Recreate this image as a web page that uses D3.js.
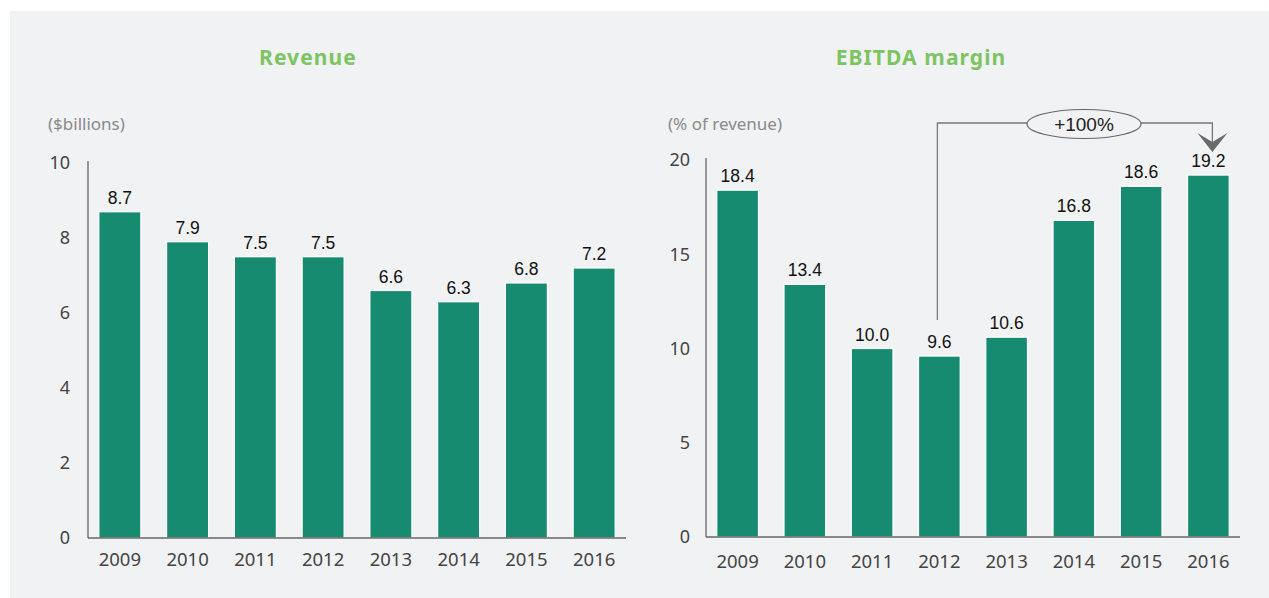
<!DOCTYPE html>
<html><head><meta charset="utf-8">
<script src="https://cdn.jsdelivr.net/npm/d3@7"></script>
<style>
html,body{margin:0;padding:0;background:#fff;}
svg{display:block;}
</style></head>
<body>
<svg id="c" width="1269" height="598"></svg>
<script>
const years = ["2009","2010","2011","2012","2013","2014","2015","2016"];
const revenue = [8.7, 7.9, 7.5, 7.5, 6.6, 6.3, 6.8, 7.2];
const revenueLabels = ["8.7","7.9","7.5","7.5","6.6","6.3","6.8","7.2"];
const margin = [18.4, 13.4, 10.0, 9.6, 10.6, 16.8, 18.6, 19.2];
const marginLabels = ["18.4","13.4","10.0","9.6","10.6","16.8","18.6","19.2"];
const revenueTicks = [0, 2, 4, 6, 8, 10];
const marginTicks = [0, 5, 10, 15, 20];
const annotation = {from: "2012", to: "2016", text: "+100%"};

const svg = d3.select("#c");
svg.append("rect").attr("x",10).attr("y",11).attr("width",1259).attr("height",587).attr("fill","#f1f2f4");

const BAR = "#178b70", AX = "#666", TXT = "#444";
const FONT = "'Noto Sans', 'Open Sans', sans-serif";
const NUMFONT = "'Liberation Sans', Arial, sans-serif";

function panel(o){
  const g = svg.append("g");
  const x = d3.scaleBand().domain(years).range([o.x0, o.x1]).paddingInner(0.38).paddingOuter(0.16);
  const y = d3.scaleLinear().domain([0, o.max]).range([o.y0, o.y1]);
  // title
  g.append("text").attr("x", o.tx).attr("y", 65).attr("text-anchor","middle")
    .attr("font-family", FONT).attr("font-weight","bold").attr("font-size",21)
    .attr("letter-spacing","1.1px").attr("fill","#7dc462").text(o.title);
  g.append("text").attr("x", o.ux).attr("y", 130).attr("font-family", FONT)
    .attr("font-size",17).attr("fill","#8a8a8a").text(o.unit);
  // bars
  g.selectAll("rect.bar").data(o.vals).join("rect").attr("class","bar")
    .attr("x",(d,i)=>x(years[i])).attr("width",x.bandwidth())
    .attr("y",d=>y(d)).attr("height",d=>y(0)-y(d))
    .attr("fill",BAR).attr("stroke","#ffffff").attr("stroke-width",1.2);
  g.selectAll("text.val").data(o.vals).join("text").attr("class","val")
    .attr("x",(d,i)=>x(years[i])+x.bandwidth()/2).attr("y",d=>y(d)-8)
    .attr("text-anchor","middle").attr("font-family",NUMFONT).attr("font-size",17.5)
    .attr("fill","#111").text((d,i)=>o.labels[i]);
  // y axis
  const ya = g.append("g").attr("transform",`translate(${o.x0},0)`)
    .call(d3.axisLeft(y).tickValues(o.ticks).tickSize(0).tickPadding(o.tp).tickFormat(d3.format("d")));
  ya.select(".domain").attr("stroke",AX).attr("stroke-width",1.3).attr("d",`M0,${o.y1-2}V${o.y0}`);
  ya.selectAll("text").attr("font-family",FONT).attr("font-size",18).attr("fill",TXT);
  // x axis
  const xa = g.append("g").attr("transform",`translate(0,${o.y0})`)
    .call(d3.axisBottom(x).tickSize(0).tickPadding(o.xp));
  xa.select(".domain").attr("stroke",AX).attr("stroke-width",1.5).attr("d",`M${o.x0},0H${o.x1}`);
  xa.selectAll("text").attr("font-family",FONT).attr("font-size",18.5).attr("fill",TXT);
  return {x, y, g};
}

panel({x0:88, x1:626, y0:538, y1:163, max:10, vals:revenue, labels:revenueLabels, ticks:revenueTicks,
  title:"Revenue", tx:308, unit:"($billions)", ux:48, tp:18, xp:15});
const p2 = panel({x0:706, x1:1240, y0:537, y1:160, max:20, vals:margin, labels:marginLabels, ticks:marginTicks,
  title:"EBITDA margin", tx:921, unit:"(% of revenue)", ux:668, tp:16, xp:18});

// annotation
const ax1 = p2.x(annotation.from) + p2.x.bandwidth()/2 - 2;
const ax2 = p2.x(annotation.to) + p2.x.bandwidth()/2 + 4;
const vi = years.indexOf(annotation.from);
const ly = 123;
p2.g.append("path").attr("d",`M${ax1},${p2.y(margin[vi])-36}V${ly}H${ax2}V${ly+22}`)
  .attr("fill","none").attr("stroke","#777").attr("stroke-width",1.3);
p2.g.append("path").attr("d",`M${ax2-15},${ly+10}L${ax2},${ly+19}L${ax2+15},${ly+10}L${ax2},${ly+29}Z`)
  .attr("fill","#6b6b6b");
const ex = 1084;
p2.g.append("ellipse").attr("cx",ex).attr("cy",ly+1).attr("rx",57).attr("ry",14.5)
  .attr("fill","#f1f2f4").attr("stroke","#666").attr("stroke-width",1.2);
p2.g.append("text").attr("x",ex).attr("y",ly+7.5).attr("text-anchor","middle")
  .attr("font-family",NUMFONT).attr("font-size",19).attr("fill","#222").text(annotation.text);
</script>
</body></html>
